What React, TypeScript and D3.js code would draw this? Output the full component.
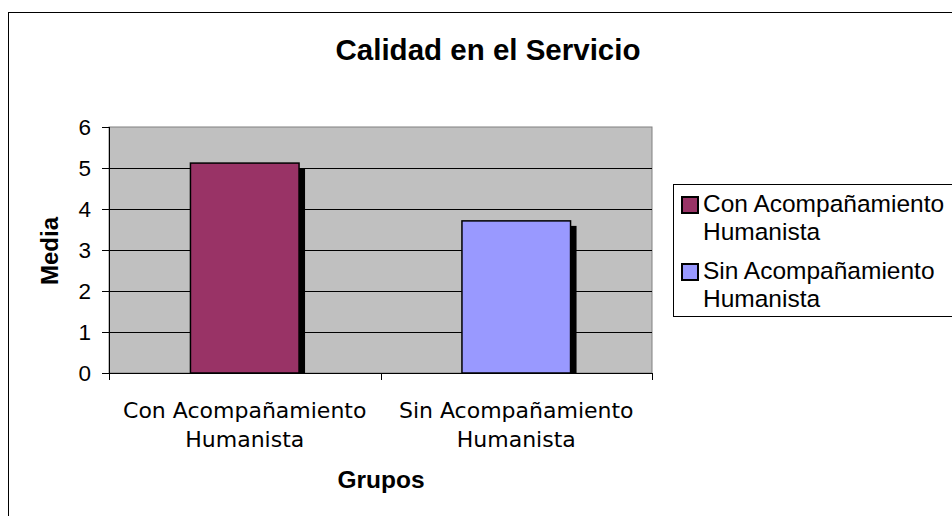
import * as d3 from 'd3';
import { useEffect, useRef } from 'react';

const categories = ['Con Acompañamiento Humanista', 'Sin Acompañamiento Humanista'];
const labelLines = [['Con Acompañamiento', 'Humanista'], ['Sin Acompañamiento', 'Humanista']];
const values = [5.12, 3.71];
const colors = ['#993366', '#9999FF'];
const yTicks = [0, 1, 2, 3, 4, 5, 6];

export default function App() {
    const ref = useRef<SVGSVGElement>(null);

    useEffect(() => {
        const svg = d3.select(ref.current);
        svg.selectAll('*').remove();
        const W = 952, H = 516;
        const plot = { left: 109, right: 652, top: 127, bottom: 373 };
        const arial = 'Arial, Liberation Sans, sans-serif';

        // 外框
        svg.append('rect').attr('x', 8.5).attr('y', 12.5).attr('width', W + 10).attr('height', H + 10)
            .attr('fill', '#fff').attr('stroke', '#000');

        svg.append('text').attr('x', 488).attr('y', 60).attr('text-anchor', 'middle')
            .attr('font-family', arial).attr('font-weight', 'bold').attr('font-size', 29.5)
            .text('Calidad en el Servicio');

        const x = d3.scaleBand().domain(categories).range([plot.left, plot.right]).paddingInner(0.6).paddingOuter(0.3);
        const xOuter = d3.scaleBand().domain(categories).range([plot.left, plot.right]);
        const y = d3.scaleLinear().domain([0, 6]).range([plot.bottom, plot.top]);

        // 绘图区背景
        svg.append('rect').attr('x', plot.left).attr('y', plot.top)
            .attr('width', plot.right - plot.left).attr('height', plot.bottom - plot.top)
            .attr('fill', '#C0C0C0').attr('stroke', '#808080');

        // 网格线
        svg.selectAll('line.grid').data(yTicks.filter(d => d > 0 && d < 6)).join('line')
            .attr('x1', plot.left).attr('x2', plot.right)
            .attr('y1', d => Math.round(y(d)) + 0.5).attr('y2', d => Math.round(y(d)) + 0.5)
            .attr('stroke', '#000').attr('stroke-width', 1);

        // 阴影
        svg.selectAll('rect.shadow').data(values).join('rect')
            .attr('x', (d, i) => x(categories[i])! + x.bandwidth())
            .attr('y', d => y(d) + 5)
            .attr('width', 6)
            .attr('height', d => plot.bottom - y(d) - 5)
            .attr('fill', '#000');

        // 柱子
        svg.selectAll('rect.bar').data(values).join('rect')
            .attr('x', (d, i) => x(categories[i])!)
            .attr('y', d => y(d))
            .attr('width', x.bandwidth())
            .attr('height', d => plot.bottom - y(d))
            .attr('fill', (d, i) => colors[i])
            .attr('stroke', '#000').attr('stroke-width', 1.5);

        // 坐标轴
        svg.append('line').attr('x1', plot.left + 0.5).attr('x2', plot.left + 0.5)
            .attr('y1', plot.top).attr('y2', plot.bottom).attr('stroke', '#000');
        svg.append('line').attr('x1', plot.left).attr('x2', plot.right)
            .attr('y1', plot.bottom + 0.5).attr('y2', plot.bottom + 0.5).attr('stroke', '#000');

        svg.selectAll('line.ytick').data(yTicks).join('line')
            .attr('x1', plot.left - 7).attr('x2', plot.left)
            .attr('y1', d => Math.round(y(d)) + 0.5).attr('y2', d => Math.round(y(d)) + 0.5)
            .attr('stroke', '#000');
        svg.selectAll('text.ytick').data(yTicks).join('text')
            .attr('x', 91).attr('y', d => y(d) + 8).attr('text-anchor', 'end')
            .attr('font-family', arial).attr('font-size', 22.5)
            .text(d => d);

        const xTickPos = [plot.left, ...categories.map(c => xOuter(c)! + xOuter.bandwidth())];
        svg.selectAll('line.xtick').data(xTickPos).join('line')
            .attr('x1', d => Math.round(d) + 0.5).attr('x2', d => Math.round(d) + 0.5)
            .attr('y1', plot.bottom).attr('y2', plot.bottom + 7).attr('stroke', '#000');

        categories.forEach((c, i) => {
            const cx = xOuter(c)! + xOuter.bandwidth() / 2;
            const t = svg.append('text').attr('text-anchor', 'middle')
                .attr('font-family', 'DejaVu Sans, Verdana').attr('font-size', 22);
            labelLines[i].forEach((line, j) => {
                t.append('tspan').attr('x', cx).attr('y', 418 + j * 29).text(line);
            });
        });

        svg.append('text').attr('x', 381).attr('y', 488).attr('text-anchor', 'middle')
            .attr('font-family', arial).attr('font-weight', 'bold').attr('font-size', 24.5)
            .text('Grupos');
        svg.append('text').attr('transform', 'translate(58,251) rotate(-90)').attr('text-anchor', 'middle')
            .attr('font-family', arial).attr('font-weight', 'bold').attr('font-size', 24)
            .text('Media');

        // 图例
        const lg = svg.append('g');
        lg.append('rect').attr('x', 673.5).attr('y', 184.5).attr('width', 300).attr('height', 132)
            .attr('fill', '#fff').attr('stroke', '#000');
        labelLines.forEach((lines, i) => {
            const top = 197 + i * 67;
            lg.append('rect').attr('x', 682).attr('y', top).attr('width', 16).attr('height', 16)
                .attr('fill', colors[i]).attr('stroke', '#000').attr('stroke-width', 2);
            const t = lg.append('text').attr('font-family', arial).attr('font-size', 24.5);
            lines.forEach((line, j) => {
                t.append('tspan').attr('x', 703).attr('y', top + 15 + j * 28).text(line);
            });
        });
    }, []);

    return (
        <svg ref={ref} width={952} height={516} style={{ position: 'absolute', left: 0, top: 0, background: '#fff' }} />
    );
}
